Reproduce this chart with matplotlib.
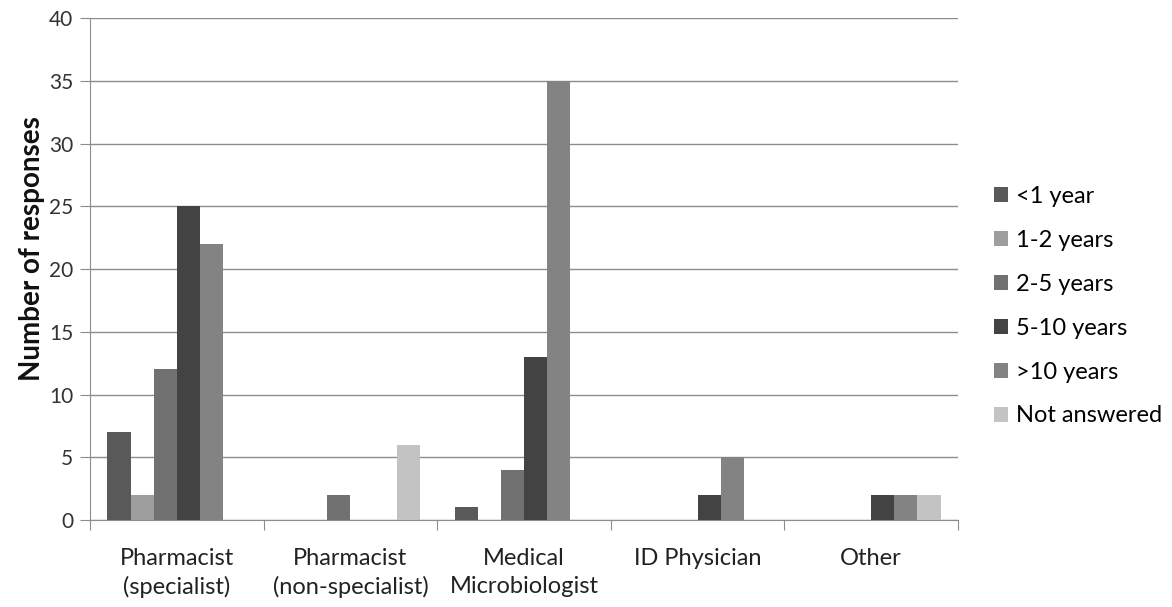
import numpy as np
import matplotlib.pyplot as plt

plt.rcParams['font.family'] = ['Lato', 'DejaVu Sans']

categories = ['Pharmacist\n(specialist)', 'Pharmacist\n(non-specialist)',
              'Medical\nMicrobiologist', 'ID Physician', 'Other']
series = ['<1 year', '1-2 years', '2-5 years', '5-10 years', '>10 years', 'Not answered']
values = [
    [7, 0, 1, 0, 0],     # <1 year
    [2, 0, 0, 0, 0],     # 1-2 years
    [12, 2, 4, 0, 0],    # 2-5 years
    [25, 0, 13, 2, 2],   # 5-10 years
    [22, 0, 35, 5, 2],   # >10 years
    [0, 6, 0, 0, 2],     # Not answered
]
colors = ['#595959', '#9e9e9e', '#717171', '#434343', '#838383', '#c3c3c3']

fig = plt.figure(figsize=(11.72, 6.07), dpi=100)
ax = fig.add_axes([0.0768, 0.1433, 0.7406, 0.827])

n = len(series)
width = 1 / (n + 1.5)
x = np.arange(len(categories))
for i, (name, vals) in enumerate(zip(series, values)):
    offs = (i - (n - 1) / 2) * width
    ax.bar(x + offs, vals, width, color=colors[i], label=name, zorder=3)

ax.set_xlim(-0.5, len(categories) - 0.5)
ax.set_ylim(0, 40)
ax.set_yticks(range(0, 41, 5))
ax.yaxis.grid(True, color='#8c8c8c', linewidth=1)
ax.set_axisbelow(True)

# category labels sit between the boundary ticks
ax.set_xticks(np.arange(-0.5, len(categories), 1))
ax.set_xticklabels([])
ax.set_xticks(x, minor=True)
ax.set_xticklabels(categories, minor=True, fontsize=17, color='#222222', linespacing=1.42)
ax.tick_params(axis='x', which='minor', length=0, pad=20)
ax.tick_params(axis='x', which='major', length=7, color='#8c8c8c', direction='out')
ax.tick_params(axis='y', length=7, color='#8c8c8c', labelsize=15, labelcolor='#333333', pad=5)

for side in ['top', 'right']:
    ax.spines[side].set_visible(False)
for side in ['left', 'bottom']:
    ax.spines[side].set_color('#8c8c8c')

ax.set_ylabel('Number of responses', fontsize=20, fontweight='bold', color='#111111')
ax.yaxis.set_label_coords(-0.052, 0.54)

ax.legend(loc='center left', bbox_to_anchor=(1.0415, 0.426), frameon=False, fontsize=17,
          borderpad=0, borderaxespad=0,
          handlelength=0.6, handleheight=0.6, handletextpad=0.35, labelspacing=0.97)

fig.savefig('out.png', dpi=100)
